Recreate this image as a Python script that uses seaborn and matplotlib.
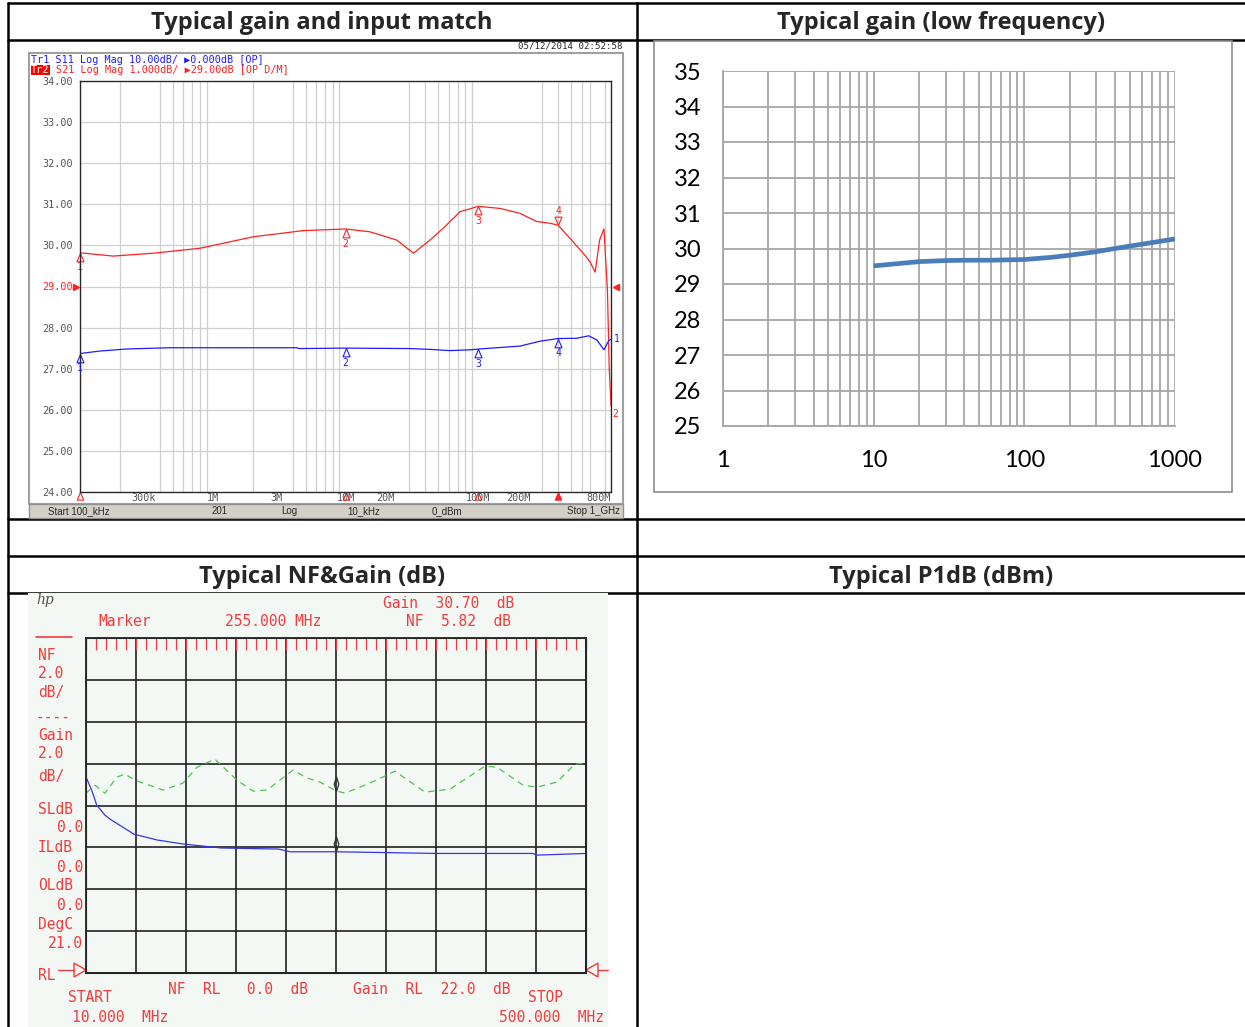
import numpy as np
import matplotlib.pyplot as plt
import matplotlib.ticker as mticker
from matplotlib.patches import Rectangle, Polygon
import seaborn as sns

# Analizador de redes: S21 (ganancia) y S11 (adaptacion de entrada)
s21_freq_hz = [1e5, 1.78e5, 3.57e5, 8.0e5, 2.02e6, 4.81e6, 1.0e7, 1.53e7, 2.43e7, 3.25e7,
               4.33e7, 5.46e7, 7.29e7, 1.0e8, 1.46e8, 2.06e8, 2.76e8, 3.47e8, 4.0e8, 4.91e8,
               6.18e8, 6.95e8, 7.6e8, 8.2e8, 8.85e8, 9.4e8, 9.7e8, 1.0e9]
s21_db = [29.82, 29.74, 29.81, 29.93, 30.21, 30.36, 30.40, 30.33, 30.13, 29.81,
          30.13, 30.42, 30.82, 30.95, 30.90, 30.78, 30.58, 30.54, 30.49, 30.17,
          29.81, 29.60, 29.35, 30.13, 30.40, 28.90, 27.00, 26.10]

s11_freq_hz = [1e5, 1.42e5, 2.25e5, 4.77e5, 4.28e6, 4.5e6, 1.0e7, 3.06e7, 4.33e7, 6.1e7,
               8.7e7, 1.0e8, 2.06e8, 2.93e8, 4.0e8, 5.5e8, 6.8e8, 7.82e8, 8.85e8, 9.6e8, 1.0e9]
s11_db = [-16.31, -15.7, -15.2, -14.9, -14.9, -15.1, -14.99, -15.1, -15.3, -15.6,
          -15.4, -15.22, -14.5, -13.3, -12.66, -12.6, -12.0, -13.0, -15.4, -13.2, -12.8]

mk_freq_hz = [1e5, 1e7, 1e8, 4e8]
mk_freq_txt = ['100.00kHz', '10.000MHz', '100.00MHz', '400.00MHz']
mk_s11_db = [-16.31, -14.99, -15.22, -12.66]
mk_s21_db = [29.82, 30.40, 30.95, 30.49]

vna_xtick_hz = [3e5, 1e6, 3e6, 1e7, 2e7, 1e8, 2e8, 8e8]
vna_xtick_lbl = ['300k', '1M', '3M', '10M', '20M', '100M', '200M', '800M']

# Ganancia a baja frecuencia (grafica Excel), MHz
lf_freq_mhz = [10, 15, 20, 30, 40, 60, 100, 150, 200, 300, 400, 600, 1000]
lf_gain_db = [29.51, 29.58, 29.63, 29.66, 29.67, 29.67, 29.69, 29.75, 29.81, 29.91, 30.00, 30.12, 30.27]

# Medidor de figura de ruido (HP), MHz
nf_freq_mhz = [10, 15.6, 20.5, 28.6, 33.5, 57, 80, 105.5, 142.8, 198.6, 210, 254.6, 355, 448, 452, 500]
nf_db = [9.36, 8.73, 8.02, 7.54, 7.35, 6.63, 6.35, 6.16, 5.97, 5.92, 5.79, 5.79, 5.71, 5.71, 5.63, 5.71]

gain_freq_mhz = [10, 18.8, 28.6, 40.4, 48.2, 58.0, 85.5, 105, 118.8, 136.4, 158, 173.7, 187.4, 212.9,
                 226.6, 239.3, 255, 263.8, 288.3, 312.8, 342.2, 366.7, 401, 412.8, 438.3, 452, 471.6,
                 489.2, 500]
gain_db = [30.59, 30.97, 30.59, 31.36, 31.50, 31.21, 30.74, 31.07, 31.83, 32.21, 31.21, 30.69, 30.74,
           31.69, 31.31, 31.12, 30.70, 30.59, 31.07, 31.64, 30.64, 30.78, 31.88, 31.83, 30.97, 30.88,
           31.12, 31.98, 32.02]

nf_marker_mhz = 255.0
nf_marker_gain = 30.70
nf_marker_nf = 5.82

## ESTILO
sns.set_style("white")
plt.rcParams['font.family'] = ['Lato', 'DejaVu Sans']
MONO = ['DejaVu Sans Mono', 'DejaVu Sans']
HP_RED = '#f03c3c'
VNA_BLUE = '#1c1cff'
VNA_RED = '#ff2020'

W, H = 1245, 1027
fig = plt.figure(figsize=(W / 100, H / 100), dpi=100)


def px_axes(x0, y0, x1, y1):
    return fig.add_axes([x0 / W, 1 - y1 / H, (x1 - x0) / W, (y1 - y0) / H])


# Lienzo para la tabla y los textos
bg = px_axes(0, 0, W, H)
bg.set_xlim(0, W)
bg.set_ylim(H, 0)
bg.axis('off')

for y in [3, 40, 519, 556, 593]:
    bg.plot([8, W], [y, y], color='black', lw=1.8, zorder=1)
for x in [8, 637]:
    bg.plot([x, x], [3, H], color='black', lw=1.8, zorder=1)

titulos = [(322, 23, 'Typical gain and input match'), (941, 23, 'Typical gain (low frequency)'),
           (322, 577, 'Typical NF&Gain (dB)'), (941, 577, 'Typical P1dB (dBm)')]
for x, y, t in titulos:
    bg.text(x, y, t, ha='center', va='center', fontsize=17, fontweight='bold',
            family=['Open Sans', 'DejaVu Sans'])

# ---------- Panel 1: analizador de redes ----------
bg.add_patch(Rectangle((29, 53), 594, 451, fc='white', ec='#a0a0a0', lw=1.5, zorder=2))
bg.add_patch(Rectangle((29, 504), 594, 14, fc='#d4d0c8', ec='#909090', lw=1.0, zorder=2))
bg.text(623, 46, '05/12/2014 02:52:58', ha='right', va='center', family=MONO, fontsize=6.6, zorder=3)
bg.text(31, 60, 'Tr1 S11 Log Mag 10.00dB/ \u25b60.000dB [OP]', color=VNA_BLUE, family=MONO,
        fontsize=7.3, va='center', zorder=3)
bg.text(31, 70, 'Tr2', color='white', family=MONO, fontsize=7.3, va='center', zorder=3,
        bbox=dict(fc='red', ec='none', pad=0.3))
bg.text(56, 70, 'S21 Log Mag 1.000dB/ \u25b629.00dB [OP D/M]', color=VNA_RED, family=MONO,
        fontsize=7.3, va='center', zorder=3)

fila_y = [90, 100, 110.5, 120.5]
for i in range(4):
    bg.text(455, fila_y[i], str(i + 1), color=VNA_BLUE, family=MONO, fontsize=7, va='center', zorder=3)
    bg.text(473, fila_y[i], mk_freq_txt[i], color=VNA_BLUE, family=MONO, fontsize=7, va='center', zorder=3)
    bg.text(587, fila_y[i], f"{mk_s11_db[i]:.2f}dB", color=VNA_BLUE, family=MONO, fontsize=7,
            va='center', ha='right', zorder=3)
    yr = fila_y[i] + 45
    caja = dict(fc='red', ec='none', pad=0.3) if i == 3 else None
    bg.text(455, yr, str(i + 1), color='white' if i == 3 else VNA_RED, family=MONO, fontsize=7,
            va='center', zorder=3, bbox=caja)
    bg.text(473, yr, mk_freq_txt[i], color=VNA_RED, family=MONO, fontsize=7, va='center', zorder=3)
    bg.text(587, yr, f"{mk_s21_db[i]:.2f}dB", color=VNA_RED, family=MONO, fontsize=7,
            va='center', ha='right', zorder=3)

barra = [(48, 'left', 'Start 100_kHz'), (220, 'center', '201'), (289, 'center', 'Log'),
         (364, 'center', '10_kHz'), (447, 'center', '0_dBm'), (620, 'right', 'Stop 1_GHz')]
for x, ha, t in barra:
    bg.text(x, 511, t, ha=ha, va='center', fontsize=7, family=['Liberation Sans', 'DejaVu Sans'], zorder=3)

ax = px_axes(80, 81, 611, 492)
ax.set_xscale('log')
ax.set_xlim(1e5, 1e9)
ax.set_ylim(24, 34)
ax.xaxis.set_major_locator(mticker.FixedLocator(vna_xtick_hz))
ax.xaxis.set_major_formatter(mticker.FixedFormatter(vna_xtick_lbl))
ax.xaxis.set_minor_locator(mticker.LogLocator(base=10, subs=np.arange(1, 10), numticks=50))
ax.xaxis.set_minor_formatter(mticker.NullFormatter())
ax.set_yticks(np.arange(24, 35))
ax.set_yticklabels([f"{v:.2f}" for v in np.arange(24, 35)])
ax.grid(which='minor', axis='x', color='#cfcfcf', lw=0.9)
ax.grid(which='major', axis='y', color='#cfcfcf', lw=0.9)
ax.tick_params(which='both', length=0, labelsize=7.3, colors='#555555', labelfontfamily='DejaVu Sans Mono')
ax.tick_params(axis='y', pad=5)
ax.tick_params(axis='x', pad=1.0)
ax.get_yticklabels()[5].set_color(VNA_RED)
for s in ax.spines.values():
    s.set_color('#707070')
    s.set_linewidth(1.0)

sns.lineplot(x=s21_freq_hz, y=s21_db, ax=ax, color=VNA_RED, lw=0.9, estimator=None, sort=False)

ax_s11 = ax.twinx()
ax_s11.set_ylim(-50, 50)
ax_s11.set_yticks([])
sns.lineplot(x=s11_freq_hz, y=s11_db, ax=ax_s11, color=VNA_BLUE, lw=0.9, estimator=None, sort=False)
ax.set_xlim(1e5, 1e9)
ax.set_xlabel('')
ax.set_ylabel('')
ax_s11.set_ylabel('')

tri_abajo = [(0, 0), (-0.42, -1), (0.42, -1), (0, 0)]
tri_arriba = [(0, 0), (-0.42, 1), (0.42, 1), (0, 0)]
for i in range(4):
    ax_s11.plot(mk_freq_hz[i], mk_s11_db[i], marker=tri_abajo, ms=12, mfc='none', mec=VNA_BLUE,
                mew=0.8, clip_on=False)
    ax_s11.annotate(str(i + 1), (mk_freq_hz[i], mk_s11_db[i]), xytext=(0, -10.5), textcoords='offset points',
                    ha='center', va='center', color=VNA_BLUE, fontsize=7, family=MONO, annotation_clip=False)
    if i < 3:
        ax.plot(mk_freq_hz[i], mk_s21_db[i], marker=tri_abajo, ms=12, mfc='none', mec=VNA_RED,
                mew=0.8, clip_on=False)
        ax.annotate(str(i + 1), (mk_freq_hz[i], mk_s21_db[i]), xytext=(0, -10.5), textcoords='offset points',
                    ha='center', va='center', color=VNA_RED, fontsize=7, family=MONO, annotation_clip=False)
    else:
        ax.plot(mk_freq_hz[i], mk_s21_db[i], marker=tri_arriba, ms=12, mfc='none', mec=VNA_RED,
                mew=0.8, clip_on=False)
        ax.annotate(str(i + 1), (mk_freq_hz[i], mk_s21_db[i]), xytext=(0, 10.5), textcoords='offset points',
                    ha='center', va='center', color=VNA_RED, fontsize=7, family=MONO, annotation_clip=False)
    # marcadores de estimulo sobre el eje inferior
    ax.plot(mk_freq_hz[i], 24, marker=tri_abajo, ms=11, mfc=VNA_RED if i == 3 else 'none', mec=VNA_RED,
            mew=0.8, clip_on=False)

yx = ax.get_yaxis_transform()
ax.plot(-0.008, 29, marker='>', ms=5, color=VNA_RED, transform=yx, clip_on=False)
ax.plot(1.01, 29, marker='<', ms=5, color=VNA_RED, transform=yx, clip_on=False)
bg.text(614, 339, '1', color=VNA_BLUE, family=MONO, fontsize=7, va='center', zorder=5)
bg.text(612, 414, '2', color=VNA_RED, family=MONO, fontsize=7, va='center', zorder=5)

# ---------- Panel 2: ganancia baja frecuencia (Excel) ----------
bg.add_patch(Rectangle((654, 41), 578, 451, fc='white', ec='#8c8c8c', lw=1.2, zorder=2))
ax2 = px_axes(723, 71, 1175, 426)
ax2.set_xscale('log')
sns.lineplot(x=lf_freq_mhz, y=lf_gain_db, ax=ax2, color='#4a7ebb', lw=3.4, estimator=None,
             sort=False, solid_capstyle='butt', zorder=5)
ax2.set_xlim(1, 1000)
ax2.set_ylim(25, 35)
ax2.xaxis.set_major_locator(mticker.FixedLocator([1, 10, 100, 1000]))
ax2.xaxis.set_major_formatter(mticker.FixedFormatter(['1', '10', '100', '1000']))
ax2.xaxis.set_minor_locator(mticker.LogLocator(base=10, subs=np.arange(2, 10), numticks=50))
ax2.xaxis.set_minor_formatter(mticker.NullFormatter())
ax2.set_yticks(np.arange(25, 36))
ax2.grid(which='both', axis='x', color='#a6a6a6', lw=1.3)
ax2.grid(which='major', axis='y', color='#a6a6a6', lw=1.3)
ax2.tick_params(which='major', length=5.5, width=1.3, color='#a6a6a6', labelsize=17, pad=10,
                labelcolor='black')
ax2.tick_params(which='minor', length=0)
ax2.tick_params(axis='x', pad=12)
ax2.spines['top'].set_visible(False)
ax2.spines['right'].set_visible(False)
for s in ['left', 'bottom']:
    ax2.spines[s].set_color('#a6a6a6')
    ax2.spines[s].set_linewidth(1.3)
ax2.set_xlabel('')
ax2.set_ylabel('')

# ---------- Panel 3: figura de ruido y ganancia (HP) ----------
bg.add_patch(Rectangle((28, 593), 580, 434, fc='#f4f8f4', ec='none', zorder=3))
ax3 = px_axes(86, 638, 586, 973)
ax3.set_facecolor('#f4f8f4')
ax3.set_xlim(10, 500)
ax3.set_ylim(0, 16)
ax3.xaxis.set_major_locator(mticker.FixedLocator(np.linspace(10, 500, 11)))
ax3.xaxis.set_minor_locator(mticker.FixedLocator(np.linspace(10, 500, 51)))
ax3.set_yticks(np.arange(0, 17, 2))
ax3.grid(which='major', color='#202020', lw=1.2)
ax3.tick_params(axis='x', which='both', bottom=False, top=True, direction='in', length=8.5,
                width=0.9, color=HP_RED, labelbottom=False, labeltop=False)
ax3.tick_params(axis='y', length=0, labelleft=False)
for s in ax3.spines.values():
    s.set_color('#202020')
    s.set_linewidth(1.3)
sns.lineplot(x=nf_freq_mhz, y=nf_db, ax=ax3, color='#3535e8', lw=0.9, estimator=None, sort=False)
ax3.set_xlabel('')
ax3.set_ylabel('')

ax3g = ax3.twinx()
ax3g.set_ylim(22, 38)
ax3g.set_yticks([])
sns.lineplot(x=gain_freq_mhz, y=gain_db, ax=ax3g, color='#4cc44c', lw=0.9, estimator=None,
             sort=False, linestyle=(0, (5, 4)))
ax3g.set_ylabel('')
ax3.set_xlim(10, 500)

rombo = [(0, 0), (-0.32, 1), (0, 2), (0.32, 1), (0, 0)]
ax3.plot(nf_marker_mhz, nf_marker_nf, marker=rombo, ms=21, mfc='none', mec='#303030', mew=0.9)
ax3g.plot(nf_marker_mhz, nf_marker_gain, marker=rombo, ms=21, mfc='none', mec='#303030', mew=0.9)

hp_txt = dict(color=HP_RED, family=MONO, fontsize=10.5, va='center', zorder=5)
bg.text(36, 600, 'hp', color='#505050', family='DejaVu Serif', style='italic', fontsize=10,
        va='center', zorder=5)
bg.text(383, 603, f'Gain  {nf_marker_gain:.2f}  dB', **hp_txt)
bg.text(98, 622, 'Marker', **hp_txt)
bg.text(225, 622, f'{nf_marker_mhz:.3f} MHz', **hp_txt)
bg.text(406, 622, f'NF  {nf_marker_nf:.2f}  dB', **hp_txt)

bg.plot([36, 72], [637, 637], color=HP_RED, lw=1.2, zorder=5)
izq = [(655, 'NF', 38, 'left'), (674, '2.0', 38, 'left'), (693, 'dB/', 38, 'left'),
       (717, '----', 36, 'left'), (735, 'Gain', 38, 'left'), (754, '2.0', 38, 'left'),
       (776, 'dB/', 38, 'left'), (809, 'SLdB', 38, 'left'), (828, '0.0', 83, 'right'),
       (847, 'ILdB', 38, 'left'), (867, '0.0', 83, 'right'), (886, 'OLdB', 38, 'left'),
       (905, '0.0', 83, 'right'), (924, 'DegC', 38, 'left'), (943, '21.0', 83, 'right'),
       (975, 'RL', 38, 'left')]
for y, t, x, ha in izq:
    bg.text(x, y, t, ha=ha, **hp_txt)

bg.plot([58, 74], [970, 970], color=HP_RED, lw=1.0, zorder=5)
bg.add_patch(Polygon([(74, 963), (74, 977), (86, 970)], closed=True, fc='none', ec=HP_RED, lw=1.0, zorder=6))
bg.plot([598, 608], [970, 970], color=HP_RED, lw=1.0, zorder=5)
bg.add_patch(Polygon([(598, 963), (598, 977), (586, 970)], closed=True, fc='none', ec=HP_RED, lw=1.0, zorder=6))

bg.text(168, 989, 'NF  RL   0.0  dB', **hp_txt)
bg.text(353, 989, 'Gain  RL  22.0  dB', **hp_txt)
bg.text(68, 998, 'START', **hp_txt)
bg.text(72, 1017, '10.000  MHz', **hp_txt)
bg.text(528, 998, 'STOP', **hp_txt)
bg.text(604, 1017, '500.000  MHz', ha='right', **hp_txt)

fig.savefig('out.png', dpi=100)
